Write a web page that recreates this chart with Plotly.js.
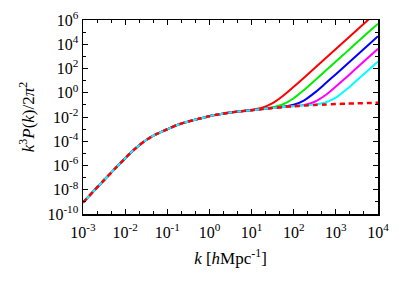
<!DOCTYPE html>
<html>
<head>
<meta charset="utf-8">
<script src="https://cdn.plot.ly/plotly-3.0.1.min.js"></script>
<style>html,body{margin:0;padding:0;background:#fff;}#chart{width:409px;height:286px;}</style>
</head>
<body>
<div id="chart"></div>
<script>
// wavenumber k [h/Mpc]
const k = [0.001, 0.00178, 0.00316, 0.00562, 0.01, 0.0178, 0.0316, 0.0562, 0.1, 0.178, 0.316, 0.562,
           1, 1.78, 3.16, 5.62, 10, 17.8, 31.6, 56.2, 100, 178, 316, 562, 1000, 1780, 3160, 5620, 10000];
// log10 of k^3 P(k) / 2pi^2
const logP_linear  = [-9.05,-8.12,-7.20,-6.30,-5.40,-4.58,-3.90,-3.40,-3.01,-2.64,-2.37,-2.14,-1.93,-1.77,-1.63,-1.53,-1.44,-1.35,-1.26,-1.18,-1.11,-1.06,-1.01,-0.97,-0.93,-0.90,-0.87,-0.85,-0.82];
const logP_red     = [-9.05,-8.12,-7.20,-6.30,-5.40,-4.58,-3.90,-3.40,-3.01,-2.64,-2.37,-2.14,-1.93,-1.77,-1.63,-1.53,-1.41,-1.24,-0.86,-0.25,0.49,1.26,2.05,2.83,3.61,4.39,5.18,5.96,6.74];
const logP_green   = [-9.05,-8.12,-7.20,-6.30,-5.40,-4.58,-3.90,-3.40,-3.01,-2.64,-2.37,-2.14,-1.93,-1.77,-1.63,-1.53,-1.44,-1.34,-1.20,-0.95,-0.45,0.24,1.01,1.79,2.57,3.35,4.14,4.92,5.70];
const logP_blue    = [-9.05,-8.12,-7.20,-6.30,-5.40,-4.58,-3.90,-3.40,-3.01,-2.64,-2.37,-2.14,-1.93,-1.77,-1.63,-1.53,-1.44,-1.35,-1.26,-1.15,-0.99,-0.62,0.01,0.76,1.53,2.31,3.10,3.88,4.66];
const logP_magenta = [-9.05,-8.12,-7.20,-6.30,-5.40,-4.58,-3.90,-3.40,-3.01,-2.64,-2.37,-2.14,-1.93,-1.77,-1.63,-1.53,-1.44,-1.35,-1.26,-1.18,-1.10,-1.00,-0.74,-0.21,0.51,1.27,2.06,2.84,3.62];
const logP_cyan    = [-9.05,-8.12,-7.20,-6.30,-5.40,-4.58,-3.90,-3.40,-3.01,-2.64,-2.37,-2.14,-1.93,-1.77,-1.63,-1.53,-1.44,-1.35,-1.26,-1.18,-1.11,-1.05,-0.98,-0.81,-0.40,0.26,1.03,1.80,2.58];

const xTickVals = [1e-3,1e-2,1e-1,1,1e1,1e2,1e3,1e4];
const xTickText = ['10<sup>-3</sup>','10<sup>-2</sup>','10<sup>-1</sup>','10<sup>0</sup>','10<sup>1</sup>','10<sup>2</sup>','10<sup>3</sup>','10<sup>4</sup>'];
const yTickVals = [1e-10,1e-8,1e-6,1e-4,1e-2,1,1e2,1e4,1e6];
const yTickText = ['10<sup>-10</sup>','10<sup>-8</sup>','10<sup>-6</sup>','10<sup>-4</sup>','10<sup>-2</sup>','10<sup>0</sup>','10<sup>2</sup>','10<sup>4</sup>','10<sup>6</sup>'];
const xMinorVals = [2.15e-3,4.64e-3,2.15e-2,4.64e-2,2.15e-1,4.64e-1,2.15,4.64,21.5,46.4,215,464,2150,4640];
const yMinorVals = [1e-9,1e-7,1e-5,1e-3,1e-1,1e1,1e3,1e5];

const toP = arr => arr.map(v => Math.pow(10, v));

const series = [
  {y: logP_red, color: '#ff0000'},
  {y: logP_green, color: '#00ee00'},
  {y: logP_blue, color: '#0000ff'},
  {y: logP_magenta, color: '#ff00ff'},
  {y: logP_cyan, color: '#00ffff'}
];
const traces = series.map(s => ({
  x: k, y: toP(s.y), type: 'scatter', mode: 'lines',
  line: {color: s.color, width: 2, shape: 'spline', smoothing: 0.8},
  showlegend: false, hoverinfo: 'skip'
}));
traces.push({
  x: k, y: toP(logP_linear), type: 'scatter', mode: 'lines',
  line: {color: '#ff0000', width: 2.5, dash: '5px,4px', shape: 'spline', smoothing: 0.8},
  showlegend: false, hoverinfo: 'skip'
});

const tickFont = {family: 'Liberation Serif, DejaVu Serif, serif', size: 16, color: '#000'};
const titleFont = {family: 'Liberation Serif, DejaVu Serif, serif', size: 17, color: '#000'};
const layout = {
  width: 409, height: 286,
  margin: {l: 83, r: 31, t: 20, b: 72},
  paper_bgcolor: '#fff', plot_bgcolor: '#fff',
  font: tickFont,
  showlegend: false,
  xaxis: {
    type: 'log', range: [-3, 4],
    showgrid: false, zeroline: false,
    showline: true, linecolor: '#000', linewidth: 1.5, mirror: 'ticks',
    ticks: 'inside', ticklen: 5, tickcolor: '#000', tickwidth: 1,
    tickmode: 'array', tickvals: xTickVals, ticktext: xTickText,
    tickfont: tickFont, ticklabelstandoff: 3,
    minor: {tickmode: 'array', tickvals: xMinorVals, ticks: 'inside', ticklen: 3, tickcolor: '#000', tickwidth: 1, showgrid: false},
    title: {text: '<i>k</i> [<i>h</i>Mpc<sup>-1</sup>]', font: titleFont, standoff: 12}
  },
  yaxis: {
    type: 'log', range: [-10, 6],
    showgrid: false, zeroline: false,
    showline: true, linecolor: '#000', linewidth: 1.5, mirror: 'ticks',
    ticks: 'inside', ticklen: 5, tickcolor: '#000', tickwidth: 1,
    tickmode: 'array', tickvals: yTickVals, ticktext: yTickText,
    tickfont: tickFont,
    minor: {tickmode: 'array', tickvals: yMinorVals, ticks: 'inside', ticklen: 3, tickcolor: '#000', tickwidth: 1, showgrid: false},
    title: {text: '<i>k</i><sup>3</sup><i>P</i>(<i>k</i>)/2<i>π</i><sup>2</sup>', font: titleFont, standoff: 8}
  }
};

Plotly.newPlot('chart', traces, layout, {staticPlot: true, displayModeBar: false});
</script>
</body>
</html>
